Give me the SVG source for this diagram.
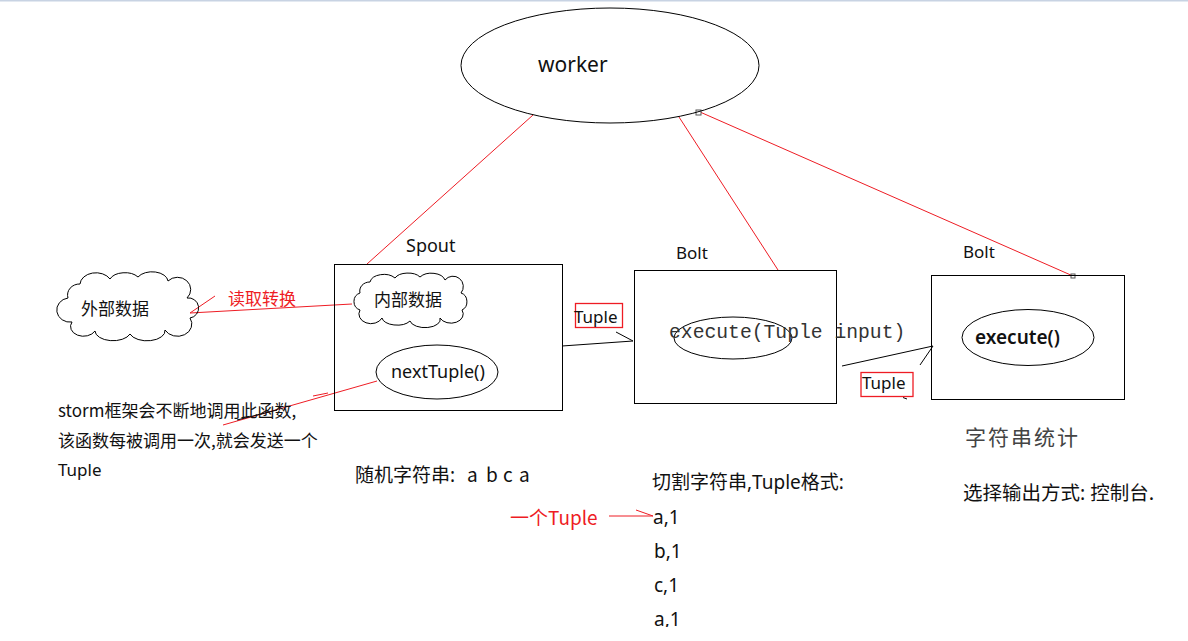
<svg xmlns="http://www.w3.org/2000/svg" width="1188" height="641" viewBox="0 0 1188 641">
<style>
  text { font-family: "Noto Sans", "Noto Sans CJK SC", sans-serif; fill: #111; }
  .k { fill: none; stroke: #000; stroke-width: 1; }
  .r { fill: none; stroke: #ee1c24; stroke-width: 1; }
  .rb { fill: none; stroke: #ee1c24; stroke-width: 1.3; }
  .red { fill: #ee1c24; }
  .cjk { font-family: "Noto Sans CJK SC", "Noto Sans", sans-serif; }
  .lat { font-family: "Noto Sans", sans-serif; }
  .mono { font-family: "Liberation Mono", "DejaVu Sans Mono", monospace; fill: #333; }
</style>
<defs>
  <clipPath id="clipBottom"><rect x="0" y="0" width="1188" height="627"/></clipPath>
</defs>
<rect x="0" y="0" width="1188" height="641" fill="#fff"/>
<rect x="0" y="0" width="1188" height="1.5" fill="#c8d3e3"/>

<g id="connectors">
  <line class="r" x1="533" y1="115" x2="367" y2="264"/>
  <line class="r" x1="679" y1="117" x2="778" y2="270"/>
  <line class="r" x1="700" y1="112" x2="1073" y2="276"/>
  <line class="r" x1="190" y1="313" x2="352" y2="304"/>
  <line class="r" x1="190" y1="313" x2="215" y2="296"/>
  <line class="r" x1="377" y1="381" x2="223" y2="425"/>
  <line class="r" x1="313" y1="396" x2="328" y2="393"/>
  <line class="k" x1="237" y1="420" x2="277" y2="410"/>
  <line class="k" x1="562" y1="346" x2="633" y2="341"/>
  <line class="k" x1="616" y1="332" x2="633" y2="341"/>
  <line class="k" x1="842" y1="366" x2="933" y2="346"/>
  <line class="k" x1="920" y1="365" x2="933" y2="346"/>
  <line class="k" x1="903" y1="397.5" x2="907" y2="399"/>
  <line class="r" x1="609" y1="516" x2="653" y2="516"/>
  <line class="r" x1="636" y1="510" x2="653" y2="516"/>
  <rect x="696" y="110" width="5" height="5" fill="#fff" stroke="#555" stroke-width="1"/>
  <rect x="1071" y="274" width="4" height="4" fill="#fff" stroke="#555" stroke-width="1"/>
</g>

<g id="worker">
  <ellipse class="k" cx="610" cy="65.5" rx="149" ry="57.5"/>
  <text x="538" y="72" font-size="21">worker</text>
</g>

<g id="external-data">
  <path class="k" d="M68,298 A12,11 0 0 1 80,284 A16,12 0 0 1 110,279 A16,10 0 0 1 138,277 A16,10 0 0 1 168,281 A13,12 0 0 1 187,298 A10,10 0 0 1 190,318 A14,12 0 0 1 165,330 A18,10 0 0 1 130,334 A18,10 0 0 1 95,331 A12,9 0 0 1 72,322 A12,11 0 0 1 68,298 Z"/>
  <text x="81" y="315" font-size="17" class="cjk">外部数据</text>
</g>

<text x="228" y="305" font-size="17" class="cjk red">读取转换</text>

<g id="spout">
  <text x="406" y="252" font-size="18">Spout</text>
  <rect class="k" x="334.5" y="264.5" width="228" height="146"/>
  <g id="internal-data">
    <path class="k" d="M360,293 A10,9 0 0 1 370,282 A14,9 0 0 1 395,278 A14,8 0 0 1 420,277 A14,9 0 0 1 445,280 A10,10 0 0 1 461,293 A8,9 0 0 1 462,310 A12,9 0 0 1 440,318 A15,8 0 0 1 410,321 A15,8 0 0 1 382,318 A10,8 0 0 1 360,310 A9,9 0 0 1 360,293 Z"/>
    <text x="374" y="306" font-size="17" class="cjk">内部数据</text>
  </g>
  <g id="nextTuple">
    <ellipse class="k" cx="437" cy="372" rx="61" ry="27"/>
    <text x="391" y="378" font-size="18">nextTuple()</text>
  </g>
</g>

<g id="spout-note">
  <text x="58" y="417" font-size="17" class="cjk">storm框架会不断地调用此函数,</text>
  <text x="58" y="447" font-size="17" class="cjk">该函数每被调用一次,就会发送一个</text>
  <text x="58" y="476" font-size="17">Tuple</text>
</g>

<text y="482" font-size="19" class="cjk"><tspan x="355">随机字符串</tspan><tspan class="lat">:</tspan><tspan x="467">a</tspan><tspan x="486">b</tspan><tspan x="503">c</tspan><tspan x="519">a</tspan></text>

<g id="tuple-label-1">
  <rect class="rb" x="575.5" y="303.5" width="47" height="24"/>
  <text x="574" y="323" font-size="17">Tuple</text>
</g>

<g id="bolt1">
  <text x="676" y="259" font-size="17">Bolt</text>
  <rect class="k" x="634.5" y="270.5" width="202" height="133"/>
  <ellipse class="k" cx="733" cy="338" rx="59" ry="21"/>
  <text x="669" y="338" font-size="19.7" class="mono">execute(Tuple input)</text>
</g>

<g id="tuple-label-2">
  <rect class="rb" x="861" y="372.5" width="52" height="24"/>
  <text x="862" y="389" font-size="17">Tuple</text>
</g>

<g id="bolt2">
  <text x="963" y="258" font-size="17">Bolt</text>
  <rect class="k" x="931.5" y="275.5" width="193" height="124"/>
  <ellipse class="k" cx="1028" cy="337.5" rx="66" ry="28"/>
  <text x="975" y="344" font-size="19" font-weight="600">execute()</text>
</g>

<text x="965" y="445" font-size="21" letter-spacing="2" class="cjk" style="fill:#444">字符串统计</text>
<text x="963" y="500" font-size="19.5" class="cjk">选择输出方式<tspan class="lat">: </tspan>控制台.</text>

<g id="bolt1-note" clip-path="url(#clipBottom)">
  <text x="652" y="489" font-size="19" class="cjk">切割字符串<tspan class="lat">,Tuple</tspan>格式<tspan class="lat">:</tspan></text>
  <text x="653" y="524" font-size="19">a,1</text>
  <text x="654" y="558" font-size="19">b,1</text>
  <text x="654" y="592" font-size="19">c,1</text>
  <text x="654" y="626" font-size="19">a,1</text>
</g>

<text x="510" y="525" font-size="19" class="cjk red">一个Tuple</text>
</svg>
